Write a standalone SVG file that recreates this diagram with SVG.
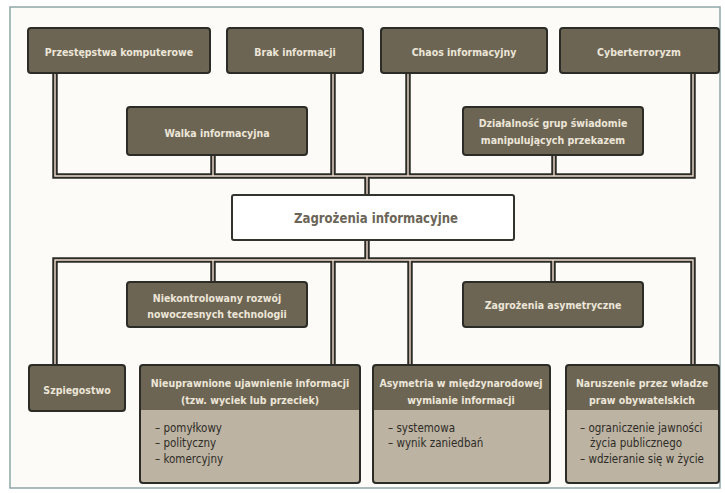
<svg xmlns="http://www.w3.org/2000/svg" width="725" height="493" viewBox="0 0 725 493">
<style>
.frame{fill:#fdfbf8;stroke:#8fa6a8;stroke-width:1.5}
.dark{fill:#6c6554;stroke:#2c2c27;stroke-width:2}
.hdr{fill:#6c6554}
.body{fill:#bcb3a3}
.outline{fill:none;stroke:#2c2c27;stroke-width:2}
.center{fill:#ffffff;stroke:#33332d;stroke-width:2}
.t{font-family:"DejaVu Sans Condensed","DejaVu Sans",sans-serif;font-weight:bold;font-size:10.5px;fill:#ece6d8;text-anchor:middle}
.tc{font-family:"DejaVu Sans Condensed","DejaVu Sans",sans-serif;font-weight:bold;font-size:14.5px;fill:#6b6558;text-anchor:middle}
.l{font-family:"DejaVu Sans Condensed","DejaVu Sans",sans-serif;font-size:11.5px;fill:#2e2c26}
.wo{fill:none;stroke:#2c2c27;stroke-width:5.5}
.wi{fill:none;stroke:#efdccf;stroke-width:1.4}
</style>
<defs>
<path id="c1" d="M55 73 V176 H693 V73"/>
<path id="c2" d="M213 155 V176"/>
<path id="c3" d="M333 73 V176"/>
<path id="c4" d="M408 73 V176"/>
<path id="c5" d="M554 155 V176"/>
<path id="c6" d="M367 176 V195"/>
<path id="c7" d="M367 240 V260"/>
<path id="c8" d="M55 365 V260 H693 V365"/>
<path id="c9" d="M213 260 V282"/>
<path id="c10" d="M333 260 V365"/>
<path id="c11" d="M410 260 V365"/>
<path id="c12" d="M553 260 V282"/>
</defs>
<rect x="0" y="0" width="725" height="493" fill="#ffffff"/>
<rect class="frame" x="10" y="7" width="710" height="481"/>
<g id="connectors">
<use href="#c1" class="wo"/><use href="#c2" class="wo"/><use href="#c3" class="wo"/><use href="#c4" class="wo"/><use href="#c5" class="wo"/><use href="#c6" class="wo"/>
<use href="#c7" class="wo"/><use href="#c8" class="wo"/><use href="#c9" class="wo"/><use href="#c10" class="wo"/><use href="#c11" class="wo"/><use href="#c12" class="wo"/>
<use href="#c1" class="wi"/><use href="#c2" class="wi"/><use href="#c3" class="wi"/><use href="#c4" class="wi"/><use href="#c5" class="wi"/><use href="#c6" class="wi"/>
<use href="#c7" class="wi"/><use href="#c8" class="wi"/><use href="#c9" class="wi"/><use href="#c10" class="wi"/><use href="#c11" class="wi"/><use href="#c12" class="wi"/>
</g>
<g id="n-przestepstwa"><rect class="dark" x="28" y="28" width="182" height="45" rx="3"/><text class="t" x="119" y="56">Przestępstwa komputerowe</text></g>
<g id="n-brak"><rect class="dark" x="227" y="28" width="136" height="45" rx="3"/><text class="t" x="295" y="56">Brak informacji</text></g>
<g id="n-chaos"><rect class="dark" x="381" y="28" width="166" height="45" rx="3"/><text class="t" x="464" y="56">Chaos informacyjny</text></g>
<g id="n-cyber"><rect class="dark" x="560" y="28" width="159" height="45" rx="3"/><text class="t" x="639" y="56">Cyberterroryzm</text></g>
<g id="n-walka"><rect class="dark" x="127" y="107" width="180" height="48" rx="3"/><text class="t" x="217" y="137">Walka informacyjna</text></g>
<g id="n-dzialalnosc"><rect class="dark" x="463" y="107" width="180" height="48" rx="3"/><text class="t" x="553" y="127">Działalność grup świadomie</text><text class="t" x="553" y="144">manipulujących przekazem</text></g>
<g id="n-zagrozenia"><rect class="center" x="232" y="195" width="282" height="45" rx="2"/><text class="tc" x="376" y="223" textLength="164" lengthAdjust="spacingAndGlyphs">Zagrożenia informacyjne</text></g>
<g id="n-niekontrolowany"><rect class="dark" x="127" y="282" width="180" height="45" rx="3"/><text class="t" x="217" y="302">Niekontrolowany rozwój</text><text class="t" x="217" y="318">nowoczesnych technologii</text></g>
<g id="n-asymetryczne"><rect class="dark" x="463" y="282" width="180" height="45" rx="3"/><text class="t" x="553" y="309">Zagrożenia asymetryczne</text></g>
<g id="n-szpiegostwo"><rect class="dark" x="29" y="365" width="96" height="46" rx="3"/><text class="t" x="77" y="394">Szpiegostwo</text></g>
<g id="n-nieuprawnione">
<rect class="body" x="140" y="365" width="220" height="118"/><rect class="hdr" x="140" y="365" width="220" height="45"/>
<rect class="outline" x="140" y="365" width="220" height="118" rx="3"/>
<text class="t" x="250" y="387">Nieuprawnione ujawnienie informacji</text><text class="t" x="250" y="404">(tzw. wyciek lub przeciek)</text>
<text class="l" x="155" y="432">– pomyłkowy</text><text class="l" x="155" y="447">– polityczny</text><text class="l" x="155" y="463">– komercyjny</text>
</g>
<g id="n-asymetria">
<rect class="body" x="373" y="365" width="177" height="118"/><rect class="hdr" x="373" y="365" width="177" height="45"/>
<rect class="outline" x="373" y="365" width="177" height="118" rx="3"/>
<text class="t" x="461" y="387">Asymetria w międzynarodowej</text><text class="t" x="461" y="404">wymianie informacji</text>
<text class="l" x="388" y="432">– systemowa</text><text class="l" x="388" y="447">– wynik zaniedbań</text>
</g>
<g id="n-naruszenie">
<rect class="body" x="566" y="365" width="153" height="118"/><rect class="hdr" x="566" y="365" width="153" height="45"/>
<rect class="outline" x="566" y="365" width="153" height="118" rx="3"/>
<text class="t" x="642" y="387">Naruszenie przez władze</text><text class="t" x="642" y="404">praw obywatelskich</text>
<text class="l" x="580" y="432">– ograniczenie jawności</text><text class="l" x="590" y="447">życia publicznego</text><text class="l" x="580" y="463">– wdzieranie się w życie</text>
</g>
</svg>
